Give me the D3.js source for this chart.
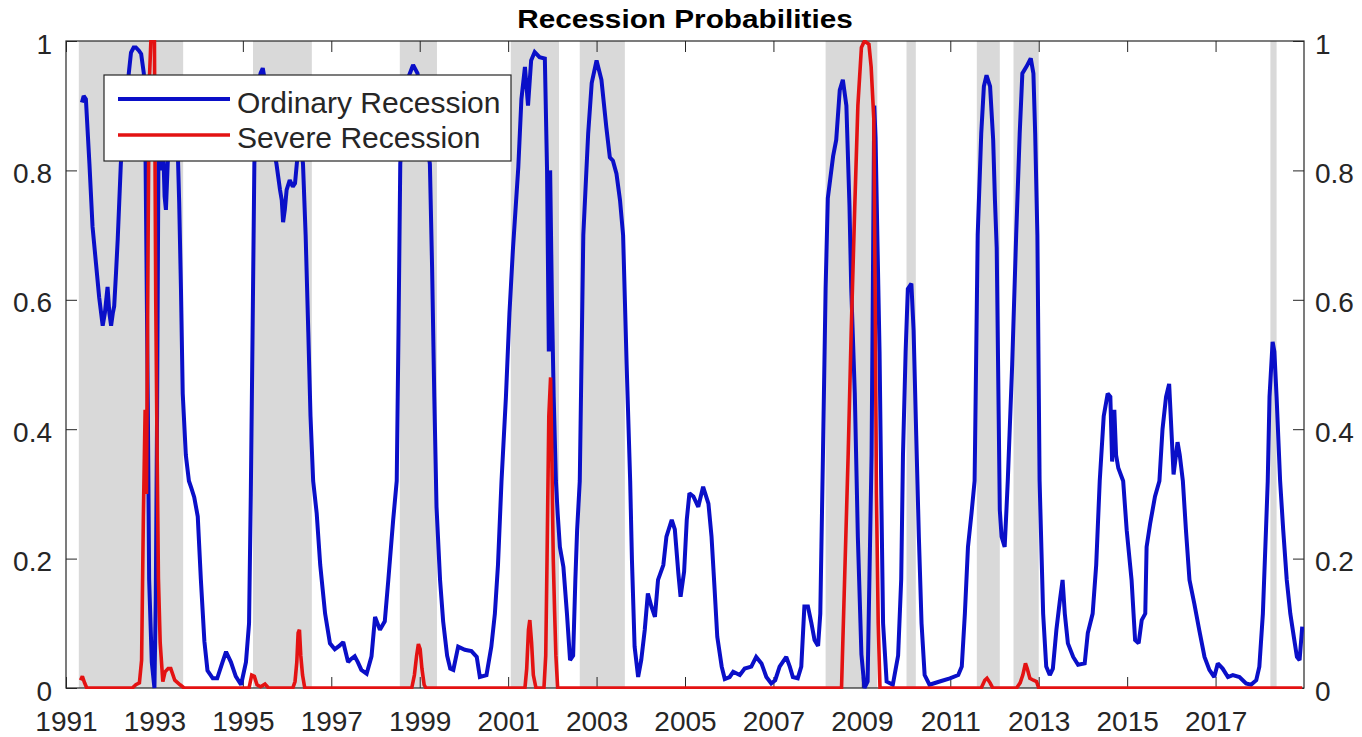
<!DOCTYPE html>
<html><head><meta charset="utf-8">
<script src="https://cdn.jsdelivr.net/npm/d3@7"></script>
<style>body{margin:0;background:#fff}svg{display:block}</style>
</head><body>
<svg id="chart" width="1362" height="737"></svg>
<script>
// ---------------- DATA ----------------
const chartTitle = "Recession Probabilities";
const seriesNames = ["Ordinary Recession", "Severe Recession"];
const xTickYears = [1991,1993,1995,1997,1999,2001,2003,2005,2007,2009,2011,2013,2015,2017];
const yTickValues = [0, 0.2, 0.4, 0.6, 0.8, 1];

// shaded recession periods (decimal years)
const recessionStarts = [1991.29, 1995.23, 1998.55, 2001.06, 2002.62, 2008.18, 2010.01, 2011.60, 2012.43, 2018.24];
const recessionEnds   = [1993.65, 1996.56, 1999.39, 2002.15, 2003.64, 2009.35, 2010.22, 2012.12, 2013.00, 2018.38];

// Ordinary recession probability
const ordinaryYears = [
1991.36,1991.40,1991.45,1991.53,1991.60,1991.68,1991.75,1991.83,1991.88,1991.94,1991.98,1992.02,1992.06,1992.09,1992.13,1992.17,1992.24,1992.30,1992.36,1992.42,1992.47,1992.53,1992.58,1992.65,1992.70,1992.76,1992.80,1992.85,1992.88,1992.94,1993.00,1993.03,1993.06,1993.09,1993.12,1993.16,1993.20,1993.23,1993.26,1993.30,1993.36,1993.45,1993.52,1993.56,1993.60,1993.64,1993.71,1993.78,1993.83,1993.90,1993.98,1994.05,1994.13,1994.20,1994.32,1994.42,1994.54,1994.62,1994.73,1994.84,1994.96,1995.07,1995.14,1995.18,1995.22,1995.26,1995.32,1995.40,1995.45,1995.52,1995.60,1995.68,1995.76,1995.84,1995.88,1995.91,1995.95,1995.99,1996.06,1996.13,1996.18,1996.22,1996.28,1996.33,1996.36,1996.42,1996.48,1996.53,1996.59,1996.67,1996.75,1996.86,1996.97,1997.08,1997.18,1997.27,1997.38,1997.45,1997.53,1997.60,1997.68,1997.80,1997.91,1997.99,1998.10,1998.21,1998.29,1998.40,1998.48,1998.52,1998.56,1998.65,1998.75,1998.85,1998.95,1999.05,1999.15,1999.23,1999.28,1999.33,1999.38,1999.46,1999.53,1999.62,1999.69,1999.76,1999.87,2000.02,2000.10,2000.17,2000.29,2000.36,2000.51,2000.62,2000.70,2000.77,2000.85,2000.95,2001.03,2001.11,2001.23,2001.30,2001.38,2001.45,2001.52,2001.60,2001.71,2001.83,2001.88,2001.92,2001.95,2001.99,2002.03,2002.08,2002.12,2002.17,2002.25,2002.33,2002.40,2002.47,2002.52,2002.56,2002.62,2002.70,2002.81,2002.89,2003.00,2003.11,2003.22,2003.30,2003.37,2003.45,2003.53,2003.60,2003.68,2003.76,2003.80,2003.86,2003.94,2004.01,2004.09,2004.16,2004.24,2004.32,2004.39,2004.51,2004.58,2004.70,2004.77,2004.85,2004.90,2004.98,2005.04,2005.10,2005.19,2005.30,2005.41,2005.53,2005.60,2005.67,2005.73,2005.83,2005.90,2006.01,2006.09,2006.24,2006.35,2006.50,2006.61,2006.73,2006.84,2006.95,2007.04,2007.14,2007.29,2007.37,2007.44,2007.55,2007.63,2007.70,2007.78,2007.86,2007.93,2008.01,2008.06,2008.12,2008.18,2008.23,2008.35,2008.42,2008.50,2008.57,2008.65,2008.72,2008.76,2008.84,2008.91,2008.99,2009.06,2009.13,2009.22,2009.28,2009.31,2009.35,2009.40,2009.44,2009.48,2009.56,2009.70,2009.82,2009.89,2009.93,2009.99,2010.04,2010.12,2010.17,2010.23,2010.29,2010.35,2010.42,2010.53,2010.76,2010.99,2011.18,2011.26,2011.33,2011.40,2011.48,2011.55,2011.62,2011.70,2011.76,2011.82,2011.90,2011.97,2012.01,2012.05,2012.12,2012.16,2012.23,2012.27,2012.30,2012.40,2012.49,2012.57,2012.63,2012.72,2012.82,2012.88,2012.92,2012.97,2013.02,2013.10,2013.17,2013.25,2013.32,2013.40,2013.48,2013.54,2013.59,2013.66,2013.78,2013.89,2014.04,2014.11,2014.22,2014.30,2014.38,2014.47,2014.56,2014.62,2014.66,2014.71,2014.75,2014.80,2014.91,2014.99,2015.10,2015.18,2015.26,2015.33,2015.41,2015.44,2015.52,2015.63,2015.73,2015.80,2015.88,2015.95,2016.05,2016.14,2016.19,2016.26,2016.33,2016.41,2016.52,2016.63,2016.75,2016.86,2016.97,2017.05,2017.16,2017.28,2017.39,2017.54,2017.69,2017.80,2017.92,2017.99,2018.07,2018.14,2018.18,2018.22,2018.29,2018.33,2018.38,2018.46,2018.53,2018.61,2018.69,2018.77,2018.84,2018.90,2018.96];
const ordinaryValues = [
0.905,0.915,0.91,0.81,0.713,0.655,0.604,0.56,0.58,0.62,0.58,0.56,0.58,0.59,0.64,0.694,0.81,0.86,0.905,0.95,0.982,0.99,0.99,0.985,0.98,0.95,0.81,0.443,0.168,0.04,0.0,0.136,0.425,0.81,0.85,0.80,0.83,0.76,0.739,0.81,0.86,0.88,0.85,0.75,0.617,0.455,0.36,0.32,0.31,0.295,0.265,0.168,0.072,0.027,0.015,0.015,0.04,0.056,0.04,0.018,0.005,0.04,0.10,0.30,0.55,0.81,0.92,0.95,0.958,0.93,0.88,0.84,0.81,0.77,0.754,0.72,0.74,0.77,0.785,0.775,0.78,0.81,0.85,0.83,0.81,0.70,0.55,0.42,0.32,0.27,0.19,0.115,0.069,0.06,0.065,0.071,0.04,0.045,0.049,0.04,0.028,0.022,0.049,0.11,0.09,0.103,0.167,0.26,0.32,0.55,0.81,0.90,0.945,0.963,0.95,0.90,0.85,0.81,0.65,0.45,0.28,0.167,0.103,0.05,0.03,0.028,0.064,0.059,0.058,0.057,0.048,0.017,0.02,0.064,0.115,0.19,0.32,0.45,0.58,0.68,0.805,0.91,0.96,0.90,0.97,0.983,0.975,0.973,0.80,0.52,0.80,0.60,0.45,0.32,0.27,0.218,0.187,0.115,0.043,0.05,0.167,0.244,0.32,0.70,0.857,0.935,0.97,0.94,0.867,0.82,0.815,0.795,0.754,0.70,0.50,0.32,0.198,0.064,0.017,0.043,0.09,0.146,0.126,0.11,0.167,0.19,0.234,0.26,0.245,0.177,0.141,0.18,0.26,0.301,0.296,0.28,0.311,0.285,0.234,0.152,0.079,0.033,0.014,0.017,0.025,0.02,0.03,0.033,0.048,0.038,0.017,0.007,0.012,0.033,0.048,0.033,0.017,0.015,0.033,0.126,0.126,0.10,0.074,0.065,0.115,0.36,0.617,0.757,0.822,0.847,0.924,0.94,0.90,0.745,0.617,0.456,0.232,0.052,0.0,0.01,0.36,0.90,0.85,0.70,0.52,0.297,0.10,0.01,0.005,0.05,0.168,0.36,0.52,0.617,0.625,0.553,0.39,0.232,0.10,0.02,0.005,0.01,0.015,0.02,0.033,0.115,0.218,0.27,0.32,0.70,0.857,0.93,0.947,0.93,0.847,0.754,0.68,0.275,0.234,0.218,0.275,0.32,0.50,0.70,0.857,0.95,0.96,0.973,0.95,0.857,0.70,0.32,0.115,0.033,0.02,0.03,0.09,0.136,0.167,0.115,0.069,0.048,0.036,0.038,0.085,0.115,0.19,0.32,0.42,0.455,0.45,0.35,0.43,0.36,0.34,0.32,0.244,0.167,0.074,0.069,0.105,0.115,0.218,0.254,0.296,0.32,0.40,0.45,0.47,0.33,0.38,0.36,0.32,0.244,0.167,0.13,0.09,0.048,0.028,0.017,0.038,0.03,0.017,0.02,0.017,0.007,0.005,0.012,0.033,0.115,0.244,0.32,0.45,0.535,0.52,0.45,0.32,0.244,0.167,0.115,0.079,0.048,0.043,0.095];

// Severe recession probability
const severeYears = [
1991.33,1991.37,1991.42,1991.47,1992.50,1992.58,1992.66,1992.71,1992.75,1992.79,1992.82,1992.85,1992.88,1992.92,1993.00,1993.03,1993.06,1993.09,1993.13,1993.19,1993.24,1993.31,1993.37,1993.46,1993.58,1993.67,1995.14,1995.20,1995.26,1995.32,1995.40,1995.50,1995.58,1996.13,1996.18,1996.22,1996.25,1996.28,1996.31,1996.35,1996.40,1998.82,1998.88,1998.93,1998.97,1999.01,1999.05,1999.10,1999.14,2001.38,2001.42,2001.46,2001.49,2001.53,2001.57,2001.63,2001.81,2001.85,2001.88,2001.92,2001.96,2001.99,2002.02,2002.05,2002.08,2002.12,2008.54,2008.61,2008.69,2008.76,2008.84,2008.91,2008.99,2009.06,2009.16,2009.21,2009.27,2009.30,2009.33,2009.37,2009.41,2011.70,2011.78,2011.83,2011.90,2011.96,2012.50,2012.58,2012.64,2012.70,2012.74,2012.80,2012.88,2012.95,2013.00,2018.96];
const severeValues = [
0.012,0.018,0.008,0,0,0.005,0.008,0.043,0.265,0.43,0.30,0.62,0.93,1.0,1.0,0.60,0.37,0.17,0.07,0.01,0.025,0.03,0.03,0.012,0.005,0,0,0.02,0.018,0.005,0.002,0.006,0,0,0.01,0.04,0.085,0.09,0.05,0.02,0,0,0.02,0.05,0.068,0.06,0.03,0.005,0,0,0.03,0.09,0.105,0.07,0.02,0,0,0.05,0.20,0.42,0.48,0.35,0.20,0.12,0.05,0,0,0.168,0.36,0.553,0.745,0.90,0.99,1.0,0.995,0.96,0.88,0.62,0.30,0.10,0,0,0.012,0.015,0.008,0,0,0.008,0.02,0.038,0.03,0.015,0.012,0.01,0,0];

// ---------------- CHART ----------------
const svg = d3.select("#chart");
const m = {left: 66, right: 1304, top: 41, bottom: 688};
const FONT = "'Liberation Sans', Arial, Helvetica, sans-serif";
const axisColor = "#262626";
const blue = "#0a0fc8", red = "#e31212";

const x = d3.scaleLinear().domain([1991, 2019]).range([m.left, m.right]);
const y = d3.scaleLinear().domain([0, 1]).range([m.bottom, m.top]);

svg.append("rect").attr("width", 1362).attr("height", 737).attr("fill", "#fff");

// clip
svg.append("defs").append("clipPath").attr("id", "plotclip")
  .append("rect").attr("x", m.left).attr("y", m.top - 1)
  .attr("width", m.right - m.left).attr("height", m.bottom - m.top + 2);

// recession shading
svg.append("g").selectAll("rect")
  .data(d3.range(recessionStarts.length))
  .join("rect")
  .attr("x", i => x(recessionStarts[i]))
  .attr("width", i => x(recessionEnds[i]) - x(recessionStarts[i]))
  .attr("y", y(1)).attr("height", y(0) - y(1))
  .attr("fill", "#d9d9d9");

// axes
function styleAxis(g) {
  g.select(".domain").remove();
  g.selectAll(".tick line").attr("stroke", axisColor).attr("stroke-width", 1);
  g.selectAll(".tick text").attr("fill", axisColor).style("font-family", FONT).style("font-size", "28px");
}
const gB = svg.append("g").attr("transform", `translate(0,${y(0)})`)
  .call(d3.axisBottom(x).tickValues(xTickYears).tickFormat(d3.format("d")).tickSizeInner(-11).tickSizeOuter(0).tickPadding(0));
styleAxis(gB);
gB.selectAll(".tick text").attr("dy", null).attr("y", 43);

const gT = svg.append("g").attr("transform", `translate(0,${y(1)})`)
  .call(d3.axisTop(x).tickValues(xTickYears).tickFormat("").tickSizeInner(-11).tickSizeOuter(0));
styleAxis(gT);

const gL = svg.append("g").attr("transform", `translate(${m.left},0)`)
  .call(d3.axisLeft(y).tickValues(yTickValues).tickFormat(d3.format("~g")).tickSizeInner(-11).tickSizeOuter(0).tickPadding(0));
styleAxis(gL);
gL.selectAll(".tick text").attr("dy", null).attr("x", -14).attr("y", 12);

const gR = svg.append("g").attr("transform", `translate(${m.right},0)`)
  .call(d3.axisRight(y).tickValues(yTickValues).tickFormat(d3.format("~g")).tickSizeInner(-11).tickSizeOuter(0).tickPadding(0));
styleAxis(gR);
gR.selectAll(".tick text").attr("dy", null).attr("x", 11).attr("y", 12);

// box
svg.append("rect").attr("x", m.left).attr("y", m.top)
  .attr("width", m.right - m.left).attr("height", m.bottom - m.top)
  .attr("fill", "none").attr("stroke", axisColor).attr("stroke-width", 1.2);

// lines
const lineGen = d3.line().x(d => x(d[0])).y(d => y(d[1]));
const ordinaryData = ordinaryYears.map((t, i) => [t, ordinaryValues[i]]);
const severeData = severeYears.map((t, i) => [t, severeValues[i]]);
const plotG = svg.append("g").attr("clip-path", "url(#plotclip)");
plotG.append("path").datum(ordinaryData).attr("d", lineGen)
  .attr("fill", "none").attr("stroke", blue).attr("stroke-width", 4).attr("stroke-linejoin", "miter").attr("stroke-miterlimit", 2);
plotG.append("path").datum(severeData).attr("d", lineGen)
  .attr("fill", "none").attr("stroke", red).attr("stroke-width", 3.6).attr("stroke-linejoin", "miter").attr("stroke-miterlimit", 2);

// title
svg.append("text").attr("transform", "translate(685,28) scale(1.19,1)")
  .attr("text-anchor", "middle").attr("fill", "#000")
  .style("font-family", FONT).style("font-size", "25px").style("font-weight", "bold")
  .text(chartTitle);

// legend
const lg = svg.append("g");
lg.append("rect").attr("x", 104).attr("y", 75).attr("width", 407).attr("height", 86)
  .attr("fill", "#fff").attr("stroke", axisColor).attr("stroke-width", 1.2);
const colors = [blue, red];
const rowsY = [99, 135];
const textBase = [113, 148];
seriesNames.forEach((name, i) => {
  lg.append("line").attr("x1", 118).attr("x2", 230).attr("y1", rowsY[i]).attr("y2", rowsY[i])
    .attr("stroke", colors[i]).attr("stroke-width", i === 0 ? 4 : 3.6);
  lg.append("text").attr("x", 237).attr("y", textBase[i]).attr("fill", axisColor)
    .style("font-family", FONT).style("font-size", "30px").text(name);
});
</script>
</body></html>
